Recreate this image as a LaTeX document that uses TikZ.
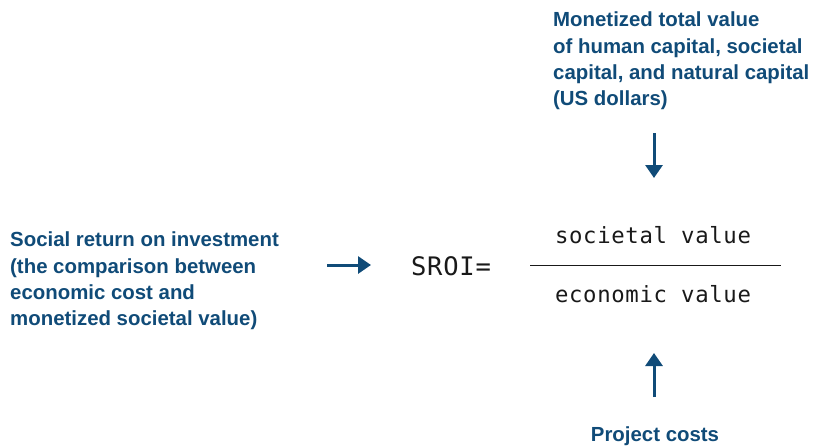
\documentclass[tikz,border=0pt]{standalone}
\usepackage{fontspec}
\setmainfont{Liberation Sans}
\newfontfamily\codefont[LetterSpace=3]{DejaVu Sans Mono}
\usetikzlibrary{arrows.meta}
\definecolor{navy}{RGB}{16,75,120}
\definecolor{ink}{RGB}{25,25,25}

\begin{document}
\begin{tikzpicture}[x=1pt, y=-1pt,
    note/.style={text=navy, inner sep=0pt, align=left,
        font=\fontsize{20.4}{26.3}\selectfont\bfseries},
    code/.style={text=ink, inner sep=0pt, anchor=base,
        font=\fontsize{22.3}{26}\selectfont\codefont},
    arrow/.style={draw=navy, line width=3pt,
        -{Triangle[width=17pt,length=13pt]}}
]
    \useasboundingbox (0,0) rectangle (814,445);
    % texts round the formula
    \node[note, anchor=north west] (total) at (553,12)
        {Monetized total value\\of human capital, societal\\capital, and natural capital\\(US dollars)};
    \node[note, anchor=north west] (sroidef) at (10,232)
        {Social return on investment\\(the comparison between\\economic cost and\\monetized societal value)};
    \node[note, anchor=north] (costs) at (655,427) {Project costs};
    % the formula
    \node[code, font=\fontsize{25.5}{30}\selectfont\codefont] (sroi) at (451,275) {SROI=};
    \node[code] (num) at (653,243) {societal value};
    \node[code] (den) at (653,302) {economic value};
    \draw[ink, line width=1pt] (530,265) -- (781,265);
    % arrows
    \coordinate (downA) at (654,133);
    \coordinate (downB) at (654,178);
    \coordinate (upA) at (654,397);
    \coordinate (upB) at (654,353);
    \coordinate (inA) at (327,265);
    \coordinate (inB) at (371,265);
    \draw[arrow] (downA) -- (downB);
    \draw[arrow] (upA) -- (upB);
    \draw[arrow] (inA) -- (inB);
\end{tikzpicture}
\end{document}
